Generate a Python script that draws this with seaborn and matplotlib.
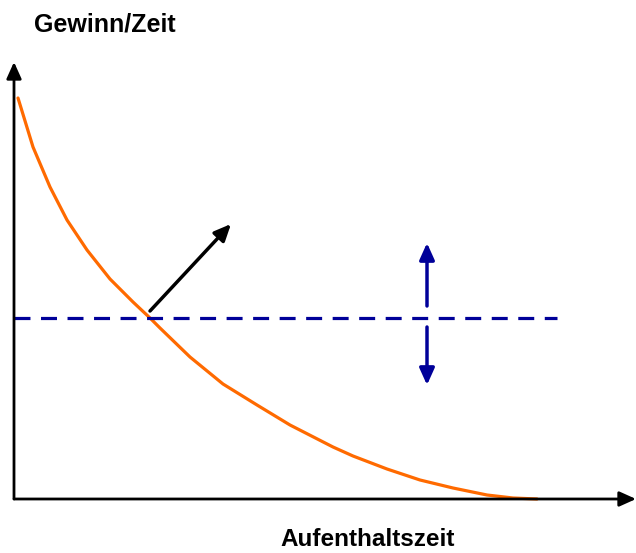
import seaborn as sns
import matplotlib.pyplot as plt
import pandas as pd

# Curve values (x: time, y: gain per time)
curve_x = [4, 19, 36, 53, 73, 96, 119, 136, 146, 176, 209, 243, 276,
           319, 339, 373, 406, 439, 473, 499, 523]
curve_y = [401, 352, 312, 279, 249, 220, 197, 181, 171, 142, 115, 94, 74,
           52, 43, 30, 19, 11, 4, 1, 0]

# Dashed average-gain level
level_x = [0, 543]
level_y = [181, 181]

# Arrows: (start, end)
black_arrow = ((136, 188), (217, 275))
blue_up = ((413, 193), (413, 256))
blue_down = ((413, 172), (413, 114))

sns.set_style("white")
plt.rcParams["font.family"] = ["Liberation Sans", "DejaVu Sans"]

fig = plt.figure(figsize=(6.36, 5.53), dpi=100)
ax = fig.add_axes([0, 0, 1, 1])

df = pd.DataFrame({"x": curve_x, "y": curve_y})
sns.lineplot(data=df, x="x", y="y", ax=ax, color="#FF6A00", lw=2.3, sort=False)

sns.lineplot(x=level_x, y=level_y, ax=ax, color="#000099", lw=2.3,
             linestyle=(0, (5, 3.3)))

head = "-|>,head_length=1.0,head_width=0.45"
# coordinate axes with arrowheads
ax.annotate("", xy=(622, 0), xytext=(0, 0),
            arrowprops=dict(arrowstyle=head, color="black", lw=2.0,
                            shrinkA=0, shrinkB=0))
ax.annotate("", xy=(0, 437), xytext=(0, 0),
            arrowprops=dict(arrowstyle=head, color="black", lw=2.0,
                            shrinkA=0, shrinkB=0))

ax.annotate("", xy=black_arrow[1], xytext=black_arrow[0],
            arrowprops=dict(arrowstyle=head, color="black", lw=2.5,
                            shrinkA=0, shrinkB=0))
for start, end in (blue_up, blue_down):
    ax.annotate("", xy=end, xytext=start,
                arrowprops=dict(arrowstyle=head, color="#000099", lw=2.5,
                                shrinkA=0, shrinkB=0))

ax.text(91, 474, "Gewinn/Zeit", ha="center", va="center",
        fontsize=18, fontweight="bold", color="black")
ax.text(354, -41, "Aufenthaltszeit", ha="center", va="center",
        fontsize=17.5, fontweight="bold", color="black")

ax.set_xlim(-14, 622)
ax.set_ylim(-54, 499)
ax.axis("off")

fig.savefig("out.png", dpi=100)
